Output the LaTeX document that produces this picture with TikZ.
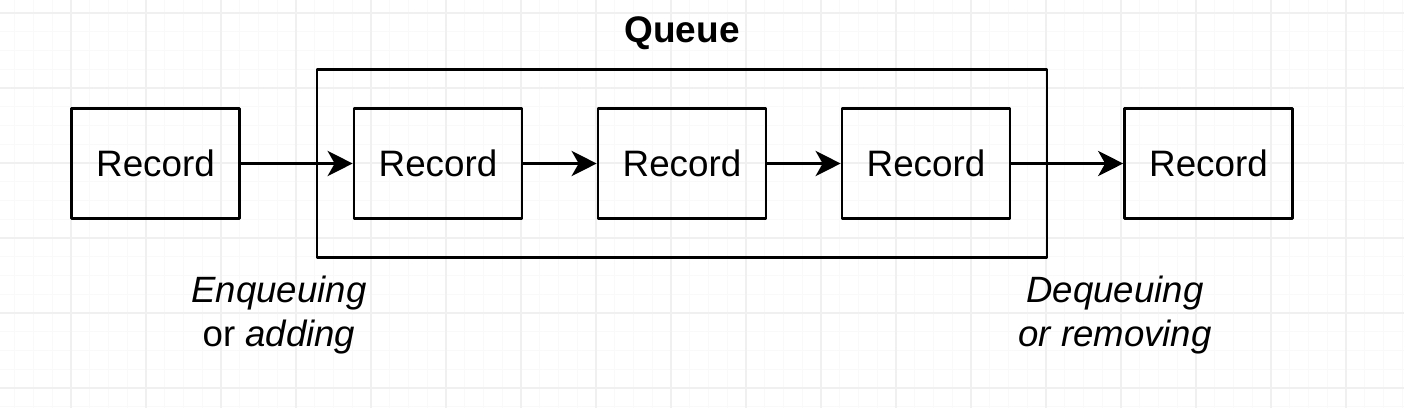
\documentclass[tikz,border=0pt]{standalone}
\usepackage{fontspec}
\setmainfont{Liberation Sans}
\usetikzlibrary{positioning,fit,arrows.meta}
\definecolor{gridmain}{HTML}{F0F0F0}
\definecolor{gridsub}{HTML}{F9F9F9}
\tikzset{
  record/.style={draw, line width=1.3pt, minimum width=84pt, minimum height=55.2pt, inner sep=0pt, font=\fontsize{18.4}{20}\selectfont},
  flow/.style={->, line width=1.9pt},
  note/.style={align=center, font=\fontsize{18.3}{22}\selectfont}
}
\begin{document}
\begin{tikzpicture}[x=0.5pt, y=-0.5pt, line join=round, >={Stealth[length=12.5pt,width=12.5pt,inset=3.5pt]}]
            \def \xmin{0}
            \def \xmax{1404}
            \def \ymin{0}
            \def \ymax{408}
            \useasboundingbox (\xmin,\ymin) rectangle (\xmax,\ymax);
            % background grid
            \foreach \x in {0,1,...,75} \draw[gridsub, line width=0.4pt] ({-4+18.75*\x},\ymin)--({-4+18.75*\x},\ymax);
            \foreach \y in {0,1,...,22} \draw[gridsub, line width=0.4pt] (\xmin,{-5.75+18.75*\y})--(\xmax,{-5.75+18.75*\y});
            \foreach \x in {0,1,...,19} \draw[gridmain, line width=0.6pt] ({-4+75*\x},\ymin)--({-4+75*\x},\ymax);
            \foreach \y in {0,1,...,5} \draw[gridmain, line width=0.6pt] (\xmin,{13+75*\y})--(\xmax,{13+75*\y});
            % records
            \node[record] (inrec) at (155.5,163.5) {Record};
            \node[record, right=55.95pt of inrec] (q1) {Record};
            \node[record, right=36.7pt of q1] (q2) {Record};
            \node[record, right=36.7pt of q2] (q3) {Record};
            \node[record, right=55.95pt of q3] (outrec) {Record};
            \node[draw, line width=1.3pt, inner xsep=17.8pt, inner ysep=18.8pt, fit=(q1)(q3)] (queue) {};
            \node[font=\fontsize{18.5}{20}\selectfont\bfseries] (title) at (682,33) {Queue};
            % arrows
            \draw[flow] (inrec) -- (q1);
            \draw[flow] (q1) -- (q2);
            \draw[flow] (q2) -- (q3);
            \draw[flow] (q3) -- (outrec);
            % labels
            \node[note] (enq) at (279,315) {\textit{Enqueuing}\\or \textit{adding}};
            \node[note] (deq) at (1115,315) {\textit{Dequeuing}\\\textit{or removing}};
        \end{tikzpicture}
\end{document}
